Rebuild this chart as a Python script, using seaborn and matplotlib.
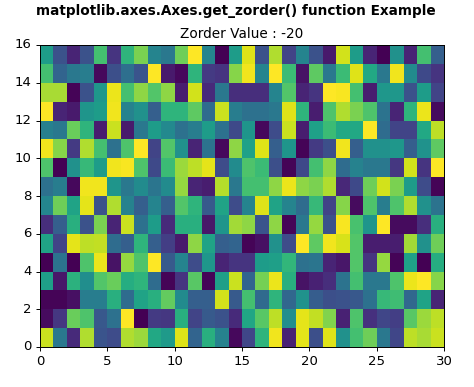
import numpy as np
import pandas as pd
import seaborn as sns
import matplotlib.pyplot as plt

## Data, values (rows from y=0 upwards)
row_00 = [9.2, 4.0, 1.2, 8.8, 2.6, 2.3, 8.8, 8.5, 6.0, 5.4, 9.5, 3.2, 6.3, 4.4, 0.2, 2.1, 6.5, 9.8, 0.9, 9.6, 2.4, 9.5, 5.0, 7.0, 7.8, 4.0, 2.1, 9.0, 8.7, 9.2]
row_01 = [0.3, 1.6, 7.7, 7.2, 2.7, 3.7, 10.0, 0.0, 1.7, 1.6, 6.3, 2.0, 2.8, 2.5, 1.2, 5.9, 7.4, 9.0, 4.9, 9.6, 9.1, 8.1, 0.9, 7.2, 1.4, 2.1, 1.8, 7.4, 8.5, 9.0]
row_02 = [0.1, 0.1, 0.4, 4.2, 4.2, 6.3, 3.5, 5.8, 6.3, 7.6, 4.8, 3.0, 3.0, 9.3, 2.8, 7.0, 3.4, 6.5, 3.3, 5.1, 2.9, 2.4, 2.5, 2.7, 3.7, 6.7, 6.9, 3.3, 5.8, 1.0]
row_03 = [5.6, 0.6, 6.4, 4.9, 7.3, 7.7, 6.2, 6.5, 3.5, 0.1, 1.5, 7.4, 0.1, 5.6, 9.2, 3.2, 7.9, 9.7, 6.3, 0.5, 0.9, 1.3, 3.8, 7.0, 4.0, 4.0, 7.2, 9.7, 10.0, 8.2]
row_04 = [0.0, 3.8, 0.0, 7.2, 9.7, 0.5, 8.4, 7.2, 10.0, 2.8, 4.5, 2.3, 5.3, 1.0, 1.5, 1.5, 5.5, 5.6, 6.6, 3.7, 3.9, 1.0, 0.6, 7.3, 1.5, 8.4, 0.1, 5.7, 0.0, 6.2]
row_05 = [5.8, 2.0, 9.6, 9.0, 9.1, 3.5, 3.0, 6.5, 3.0, 1.8, 0.7, 8.3, 5.8, 3.0, 3.2, 0.1, 0.4, 5.0, 2.3, 10.0, 7.5, 9.8, 9.4, 7.3, 0.8, 0.8, 0.8, 8.6, 5.0, 7.8]
row_06 = [1.3, 3.0, 6.3, 2.5, 8.0, 1.0, 9.2, 3.7, 5.5, 1.2, 6.3, 6.3, 0.6, 5.2, 8.6, 8.3, 2.6, 8.3, 0.1, 4.0, 8.4, 2.5, 9.9, 7.1, 5.2, 10.0, 0.3, 0.3, 1.3, 6.3]
row_07 = [4.6, 7.8, 5.8, 9.6, 2.5, 8.8, 4.4, 3.0, 4.5, 3.0, 7.3, 6.5, 2.8, 5.8, 2.3, 4.5, 9.5, 5.8, 4.5, 3.5, 6.7, 2.0, 8.2, 0.3, 7.2, 4.2, 7.2, 8.8, 5.0, 3.8]
row_08 = [3.7, 4.2, 0.2, 9.8, 9.8, 5.2, 4.0, 4.8, 3.9, 4.8, 8.4, 1.0, 0.8, 8.9, 4.0, 7.0, 7.0, 8.3, 9.7, 8.3, 8.0, 8.8, 1.1, 2.2, 7.8, 9.3, 8.0, 5.5, 2.3, 0.1]
row_09 = [7.2, 0.0, 5.0, 6.7, 5.5, 9.8, 9.9, 7.2, 2.2, 6.8, 8.5, 9.0, 9.6, 2.3, 4.8, 7.2, 6.8, 2.4, 0.1, 2.2, 7.0, 8.3, 3.5, 4.4, 4.0, 4.0, 1.6, 9.3, 1.5, 10.0]
row_10 = [9.8, 8.2, 1.7, 8.8, 7.0, 3.7, 7.2, 10.0, 2.0, 7.3, 5.0, 1.0, 3.8, 0.2, 8.3, 5.7, 9.5, 3.0, 5.2, 0.1, 1.7, 2.4, 9.8, 3.0, 5.0, 5.0, 5.3, 3.0, 5.1, 7.5]
row_11 = [4.3, 4.0, 7.7, 6.5, 0.8, 9.2, 0.7, 4.0, 5.5, 4.7, 3.7, 4.2, 5.5, 3.7, 2.2, 5.2, 0.2, 2.3, 9.2, 0.8, 5.7, 6.8, 6.0, 6.0, 10.0, 3.5, 2.0, 2.0, 6.0, 9.0]
row_12 = [10.0, 1.0, 0.7, 5.2, 5.5, 9.8, 4.4, 5.0, 3.0, 6.5, 6.5, 7.5, 3.5, 9.2, 4.2, 3.7, 3.7, 4.0, 9.5, 6.5, 0.8, 7.2, 8.8, 8.0, 7.2, 3.8, 1.0, 6.5, 9.7, 0.3]
row_13 = [8.7, 8.7, 0.1, 2.5, 5.3, 9.7, 7.0, 8.3, 7.3, 8.3, 0.8, 9.3, 1.2, 4.0, 1.3, 1.3, 1.3, 4.5, 7.3, 1.0, 1.5, 10.0, 9.9, 7.0, 0.8, 5.3, 5.3, 2.5, 5.5, 2.0]
row_14 = [7.0, 3.2, 4.0, 4.2, 0.2, 2.4, 3.6, 2.6, 10.0, 0.7, 0.2, 6.5, 1.7, 1.5, 8.2, 9.8, 4.5, 10.0, 6.8, 0.5, 7.5, 4.0, 6.8, 9.5, 6.0, 4.0, 9.8, 4.8, 2.2, 1.5]
row_15 = [5.5, 2.5, 1.0, 2.5, 7.0, 1.5, 6.5, 8.0, 4.5, 4.0, 7.8, 10.0, 4.5, 0.0, 5.5, 9.5, 2.5, 8.8, 2.0, 4.5, 2.5, 0.7, 9.3, 5.5, 1.0, 0.0, 5.0, 1.0, 7.0, 3.0]

rows = [row_00, row_01, row_02, row_03, row_04, row_05, row_06, row_07,
        row_08, row_09, row_10, row_11, row_12, row_13, row_14, row_15]
x_ticks = [0, 5, 10, 15, 20, 25, 30]
y_ticks = [0, 2, 4, 6, 8, 10, 12, 14, 16]

df = pd.DataFrame(np.array(rows))

fig = plt.figure(figsize=(4.74, 3.87), dpi=100)
ax = fig.add_axes([40 / 474, 1 - 347 / 387, 404 / 474, 302 / 387])
sns.heatmap(df, cmap='viridis', vmin=0, vmax=10, cbar=False, ax=ax)
ax.invert_yaxis()

ax.set_xticks(x_ticks)
ax.set_xticklabels(x_ticks, rotation=0, fontsize=9.5)
ax.set_yticks(y_ticks)
ax.set_yticklabels(y_ticks, rotation=0, fontsize=9.5)
ax.tick_params(length=3, width=0.7, pad=3)
ax.set_xlabel('')
ax.set_ylabel('')
for spine in ax.spines.values():
    spine.set_visible(True)
    spine.set_linewidth(0.7)

ax.set_title('Zorder Value : -20', fontsize=9.8, pad=5)
fig.suptitle('matplotlib.axes.Axes.get_zorder() function Example',
             fontsize=9.8, fontweight='bold', x=236 / 474, y=1 - 11 / 387, va='center')

fig.savefig('out.png', dpi=100)
